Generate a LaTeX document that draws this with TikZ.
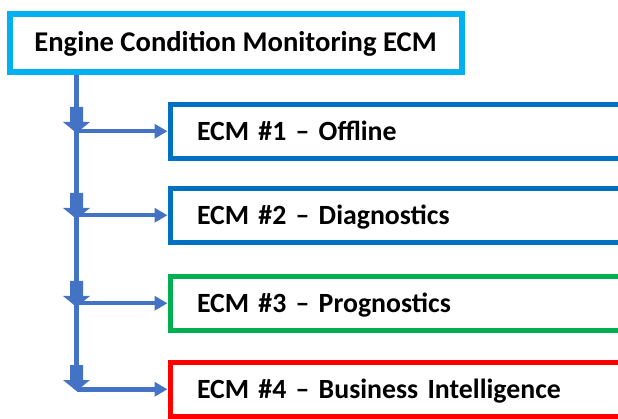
\documentclass[tikz,border=0pt]{standalone}
\usepackage{fontspec}
\setmainfont{Carlito}
\usetikzlibrary{arrows.meta,calc}
\definecolor{cyanb}{HTML}{00B0F0}
\definecolor{blueb}{HTML}{0070C0}
\definecolor{greenb}{HTML}{00B050}
\definecolor{redb}{HTML}{FF0000}
\definecolor{arrowc}{HTML}{4472C4}
\tikzset{
  topbox/.style={draw=cyanb, line width=6pt, fill=white, minimum width=452pt, minimum height=58pt,
    font=\bfseries\fontsize{28.6}{30}\selectfont, text height=18pt, text depth=0pt, inner sep=0pt},
  ecmbox/.style={draw=#1, line width=5pt, fill=white, minimum height=54pt, text width=416pt,
    inner xsep=27pt, inner ysep=0pt, align=left,
    font=\bfseries\fontsize{27.8}{30}\selectfont, text height=18pt, text depth=0pt},
  trunk/.style={draw=arrowc, line width=5.5pt},
  branch/.style={draw=arrowc, line width=4.5pt, -{Triangle[length=13pt,width=14pt]}},
  blockarrow/.style={fill=arrowc, draw=none}
}
\newcommand{\blockarr}[1]{%
  \fill[blockarrow] ($(#1)+(-6.5,-26)$) -- ($(#1)+(6.5,-26)$) -- ($(#1)+(6.5,-11)$) -- ($(#1)+(13.5,-11)$)
    -- (#1) -- ($(#1)+(-13.5,-11)$) -- ($(#1)+(-6.5,-11)$) -- cycle;}
\begin{document}
\begin{tikzpicture}[x=1pt,y=-1pt]
\useasboundingbox (0,0) rectangle (618,419);
\clip (0,0) rectangle (618,419);
\node[topbox] (top) at (235.5,43) {Engine Condition Monitoring ECM};
\node[ecmbox=blueb] (b1) at (405,131.25) {ECM \#1 – Offline};
\node[ecmbox=blueb] (b2) at (405,215.25) {ECM \#2 – Diagnostics};
\node[ecmbox=greenb] (b3) at (405,303.25) {ECM \#3 – Prognostics};
\node[ecmbox=redb] (b4) at (405,389.25) {ECM \#4 – Business Intelligence};
\coordinate (j1) at (76.5,131.25);
\coordinate (j2) at (76.5,215.25);
\coordinate (j3) at (76.5,303.25);
\coordinate (j4) at (76.5,389.25);
\coordinate (t0) at (76.5,75);
\draw[trunk] (t0) -- (j4);
\draw[branch] (j1) -- (b1.west);
\draw[branch] (j2) -- (b2.west);
\draw[branch] (j3) -- (b3.west);
\draw[branch] (j4) -- (b4.west);
\coordinate (a1) at (76.5,133);
\coordinate (a2) at (76.5,219);
\coordinate (a3) at (76.5,307);
\coordinate (a4) at (76.5,391);
\blockarr{a1}
\blockarr{a2}
\blockarr{a3}
\blockarr{a4}
\end{tikzpicture}
\end{document}
